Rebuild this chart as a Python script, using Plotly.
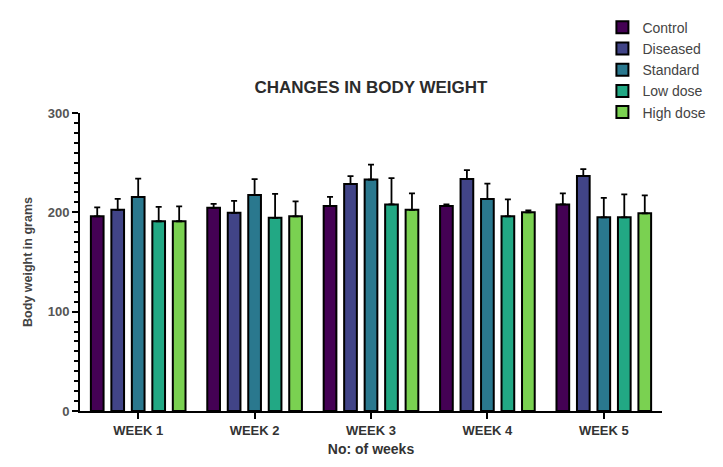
import plotly.graph_objects as go

weeks = ["WEEK 1", "WEEK 2", "WEEK 3", "WEEK 4", "WEEK 5"]
groups = ["Control", "Diseased", "Standard", "Low dose", "High dose"]
colors = ["#440154", "#414487", "#2a788e", "#22a884", "#7ad151"]

# mean body weight (g) per group and week
control = [196, 204.5, 206.5, 206.5, 208]
diseased = [202.5, 199.5, 228.5, 233.5, 236.5]
standard = [215.5, 217.5, 233, 213.5, 195]
low_dose = [191, 194.5, 208, 196, 195]
high_dose = [191, 196, 202.5, 200, 199]

# standard deviation (drawn upward only)
control_sd = [9, 4, 9, 1.5, 11]
diseased_sd = [11, 12, 8, 9, 7]
standard_sd = [18.5, 16, 15, 15.5, 19.5]
low_dose_sd = [14.5, 24, 26.5, 17, 23]
high_dose_sd = [15, 15, 16.5, 2, 18]

means = [control, diseased, standard, low_dose, high_dose]
sds = [control_sd, diseased_sd, standard_sd, low_dose_sd, high_dose_sd]

fig = go.Figure()
for name, col, m, s in zip(groups, colors, means, sds):
    fig.add_trace(go.Bar(
        x=weeks, y=m, name=name,
        marker=dict(color=col, line=dict(color="black", width=2)),
        error_y=dict(type="data", symmetric=False, array=s,
                     arrayminus=[0] * len(s), color="black",
                     thickness=1.8, width=3),
    ))

font_family = "Liberation Sans, Arial, sans-serif"

fig.update_layout(
    width=723, height=467,
    margin=dict(l=80, r=57, t=113, b=51),
    paper_bgcolor="white", plot_bgcolor="white",
    barmode="group", bargap=0.12, bargroupgap=0.38,
    font=dict(family=font_family, color="#333333"),
    title=dict(text="<b>CHANGES IN BODY WEIGHT</b>",
               x=(373 - 80) / 586, xref="paper", xanchor="center",
               y=1 - 87 / 467, yanchor="middle",
               font=dict(size=17, color="#2b2b2b")),
    legend=dict(x=(606 - 80) / 586, xanchor="left",
                y=(416 - 10) / 303, yanchor="top",
                font=dict(size=14, color="#444444"),
                bgcolor="rgba(0,0,0,0)", tracegroupgap=0,
                itemwidth=30),
    showlegend=True,
)

fig.update_xaxes(
    showline=True, linecolor="black", linewidth=2,
    ticks="outside", ticklen=6, tickwidth=2, tickcolor="black",
    tickvals=weeks, ticktext=["<b>%s</b>" % w for w in weeks],
    tickfont=dict(size=13, color="#333333", family=font_family),
    title=dict(text="<b>No: of weeks</b>", font=dict(size=14, color="#333333"),
               standoff=8),
    showgrid=False, zeroline=False,
)

fig.update_yaxes(
    range=[0, 300], tickvals=[0, 100, 200, 300],
    ticktext=["<b>0</b>", "<b>100</b>", "<b>200</b>", "<b>300</b>"],
    showline=True, linecolor="black", linewidth=2,
    ticks="outside", ticklen=6, tickwidth=2, tickcolor="black",
    minor=dict(dtick=10, ticks="outside", ticklen=4, tickwidth=2,
               tickcolor="black", showgrid=False),
    tickfont=dict(size=13, color="#555555", family=font_family),
    title=dict(text="<b>Body weight in grams</b>",
               font=dict(size=12.5, color="#444444"), standoff=12),
    showgrid=False, zeroline=False,
)

fig.write_html("out.html")
